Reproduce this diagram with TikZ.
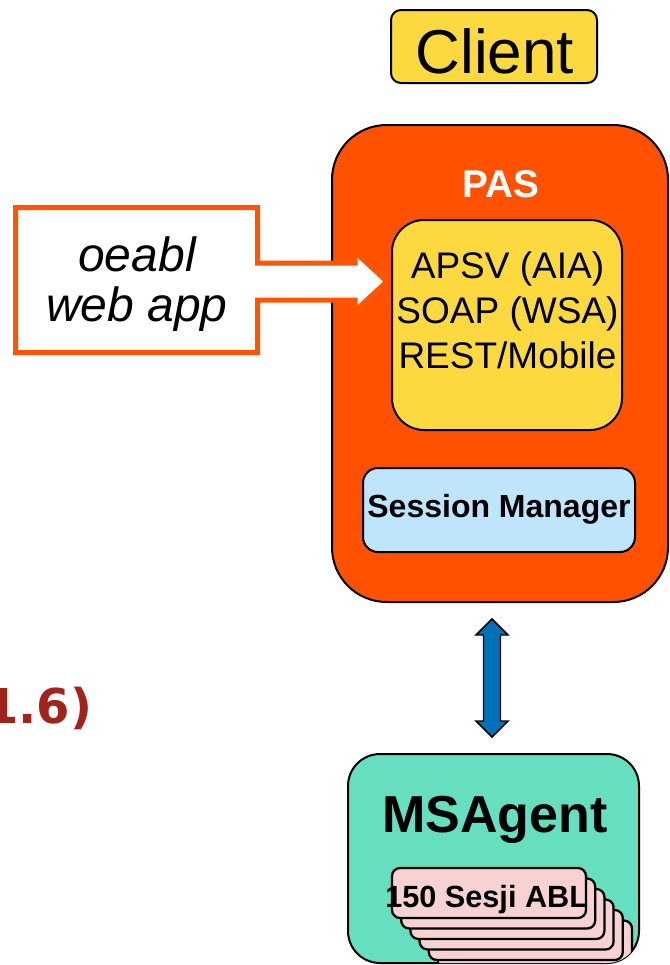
\documentclass[tikz,border=0pt]{standalone}
\usepackage{fontspec}
\setmainfont{Liberation Sans}
\newfontfamily\dejavu{DejaVu Sans}
\definecolor{clientyellow}{HTML}{FCD93E}
\definecolor{pasorange}{HTML}{FF5100}
\definecolor{smblue}{HTML}{BEE5FB}
\definecolor{msteal}{HTML}{66DEC0}
\definecolor{sespink}{HTML}{F6D2D2}
\definecolor{arrowblue}{HTML}{0070B8}
\definecolor{titlered}{HTML}{A0241C}
\definecolor{calloutorange}{HTML}{FF5500}
\tikzset{
  boxshape/.style={draw=black, line width=1.5pt, inner sep=0pt, outer sep=0pt, rectangle},
  lbl/.style={inner sep=0pt, outer sep=0pt, anchor=base},
  protolbl/.style={lbl, font=\fontsize{27.75}{30}\selectfont},
  calloutlbl/.style={lbl, font=\itshape\fontsize{36}{40}\selectfont},
  sesbox/.style={boxshape, fill=sespink, line width=1.7pt, minimum width=145.5pt, minimum height=37.5pt, rounded corners=6pt},
  dblarrow/.style={draw=black, line width=1.1pt, fill=arrowblue, line join=miter},
  callout/.style={draw=calloutorange, line width=3.75pt, fill=white, line join=miter}
}
\begin{document}
\begin{tikzpicture}[x=0.75pt, y=-0.75pt]
\useasboundingbox (0,0) rectangle (669,965);

% Client
\node[boxshape, fill=clientyellow, minimum width=154.5pt, minimum height=54.75pt, rounded corners=7.5pt] (client) at (494,46.5) {};
\node[lbl, font=\fontsize{46.5}{50}\selectfont] (clienttext) at (494.8,73) {Client};

% PAS
\node[boxshape, fill=pasorange, minimum width=252pt, minimum height=357.75pt, rounded corners=41pt] (pas) at (500,363.5) {};
\node[lbl, text=white, font=\bfseries\fontsize{29}{32}\selectfont] (pastext) at (500.8,197) {PAS};

% inner yellow box
\node[boxshape, fill=clientyellow, minimum width=172.5pt, minimum height=157.5pt, rounded corners=24pt] (proto) at (507,325) {};
\node[protolbl] (protoa) at (507.5,278) {APSV (AIA)};
\node[protolbl] (protob) at (507.5,323) {SOAP (WSA)};
\node[protolbl] (protoc) at (507.5,368) {REST/Mobile};

% Session Manager
\node[boxshape, fill=smblue, minimum width=204pt, minimum height=63pt, rounded corners=11.25pt] (sm) at (499,510) {};
\node[lbl, font=\bfseries\fontsize{24}{26}\selectfont] (smtext) at (499,517) {Session Manager};

% callout
\draw[callout] (15.5,207.5) -- (257.5,207.5) -- (257.5,263) -- (355,263) -- (355,252) -- (387,281.5) -- (355,311) -- (355,300) -- (257.5,300) -- (257.5,352.5) -- (15.5,352.5) -- cycle;
\node[calloutlbl] (calloutlinea) at (137,271) {oeabl};
\node[calloutlbl] (calloutlineb) at (137,321) {web app};

% double arrow
\coordinate (datop) at (492,619);
\coordinate (dabot) at (492,737);
\draw[dblarrow] (datop) -- ++(16,16) -- ++(-7.5,0) -- ++(0,86) -- ++(7.5,0) -- (dabot) -- ++(-16,-16) -- ++(7.5,0) -- ++(0,-86) -- ++(-7.5,0) -- cycle;

% MSAgent
\node[boxshape, fill=msteal, minimum width=218.25pt, minimum height=156.75pt, rounded corners=24pt] (msa) at (493.5,858.5) {};
\node[lbl, font=\bfseries\fontsize{39}{42}\selectfont] (msatext) at (495,832) {MSAgent};

\begin{scope}
\clip[rounded corners=24pt] (348,754) rectangle (639,963);
\foreach \i in {5,4,3,2,1} {
  \node[sesbox] (ses\i) at (489+9.2*\i, 893+10.5*\i) {};
}
\end{scope}
\node[sesbox] (ses0) at (489,893) {};
\node[lbl, font=\bfseries\fontsize{23}{25}\selectfont] (sestext) at (486.7,907) {150 Sesji ABL};

% title fragment
\node[inner sep=0pt, outer sep=0pt, anchor=base east, text=titlered, font=\dejavu\bfseries\fontsize{36}{40}\selectfont] (titlefrag) at (92,723) {1.6)};
\end{tikzpicture}
\end{document}
